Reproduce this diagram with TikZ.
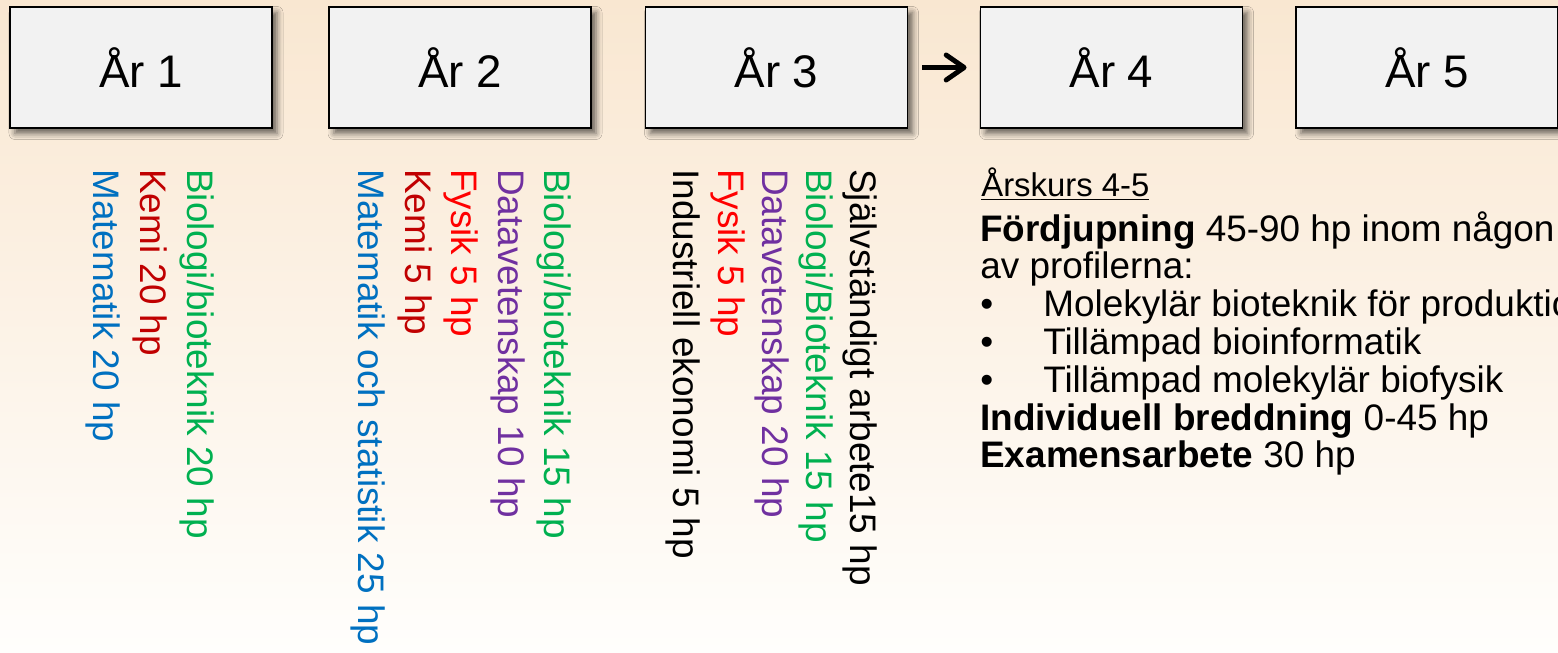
\documentclass[tikz,border=0pt]{standalone}
\usepackage{fontspec}
\setmainfont{Liberation Sans}
\usetikzlibrary{shadows.blur,arrows.meta}
\definecolor{bioGreen}{HTML}{00B050}
\definecolor{kemiRed}{HTML}{C00000}
\definecolor{fysRed}{HTML}{FF0000}
\definecolor{matBlue}{HTML}{0070C0}
\definecolor{dataPurple}{HTML}{7030A0}
\definecolor{boxGrey}{HTML}{F2F2F2}
\definecolor{bgTop}{RGB}{249,231,209}
\definecolor{bgBottom}{RGB}{255,254,252}
\begin{document}
\begin{tikzpicture}[
  yearbox/.style={draw,line width=1pt,fill=boxGrey,minimum width=5.24cm,minimum height=2.42cm,
    font=\fontsize{26}{30}\selectfont,
    blur shadow={shadow xshift=0.1cm,shadow yshift=-0.11cm,shadow blur radius=0.12cm,shadow opacity=60}},
  coursecol/.style={rotate=-90,anchor=north west,align=left,inner sep=0pt}]
\clip(0,0)rectangle(31.16,13.04);
\fill[top color=bgTop,bottom color=bgBottom](0,0)rectangle(31.16,13.04);
% the five years
\node[yearbox](ar1) at (2.82,11.69){År 1};
\node[yearbox](ar2) at (9.2,11.69){År 2};
\node[yearbox](ar3) at (15.53,11.69){År 3};
\node[yearbox](ar4) at (22.23,11.69){År 4};
\node[yearbox](ar5) at (28.54,11.69){År 5};
\draw[line width=2.8pt,-{Straight Barb[length=0.36cm,width=0.5cm,round]},shorten <=0.28cm,shorten >=0.26cm](ar3) -- (ar4);
% courses, read from top to bottom
\node[coursecol,font=\fontsize{21}{26.9}\selectfont](kurs1) at (4.3,9.66){\textcolor{bioGreen}{Biologi/bioteknik 20 hp}\\
  \textcolor{kemiRed}{Kemi 20 hp}\\
  \textcolor{matBlue}{Matematik 20 hp}};
\node[coursecol,font=\fontsize{21}{26.4}\selectfont](kurs2) at (11.43,9.66){\textcolor{bioGreen}{Biologi/bioteknik 15 hp}\\
  \textcolor{dataPurple}{Datavetenskap 10 hp}\\
  \textcolor{fysRed}{Fysik 5 hp}\\
  \textcolor{kemiRed}{Kemi 5 hp}\\
  \textcolor{matBlue}{Matematik och statistik 25 hp}};
\node[coursecol,font=\fontsize{21}{25.2}\selectfont](kurs3) at (17.56,9.66){Självständigt arbete15 hp\\
  \textcolor{bioGreen}{Biologi/Bioteknik 15 hp}\\
  \textcolor{dataPurple}{Datavetenskap 20 hp}\\
  \textcolor{fysRed}{Fysik 5 hp}\\
  Industriell ekonomi 5 hp};
% years 4-5
\node[anchor=base west,inner sep=0pt,font=\fontsize{18.7}{22}\selectfont](rubrik) at (19.62,9.1){\underline{Årskurs 4-5}};
\node[anchor=north west,align=left,inner sep=0pt,font=\fontsize{21}{21.5}\selectfont](profil) at (19.6,8.82){\textbf{Fördjupning} 45-90 hp inom någon\\
  av profilerna:\\
  \makebox[1.26cm][l]{•}Molekylär bioteknik för produktion\\
  \makebox[1.26cm][l]{•}Tillämpad bioinformatik\\
  \makebox[1.26cm][l]{•}Tillämpad molekylär biofysik\\
  \textbf{Individuell breddning} 0-45 hp\\
  \textbf{Examensarbete} 30 hp};
\end{tikzpicture}
\end{document}
